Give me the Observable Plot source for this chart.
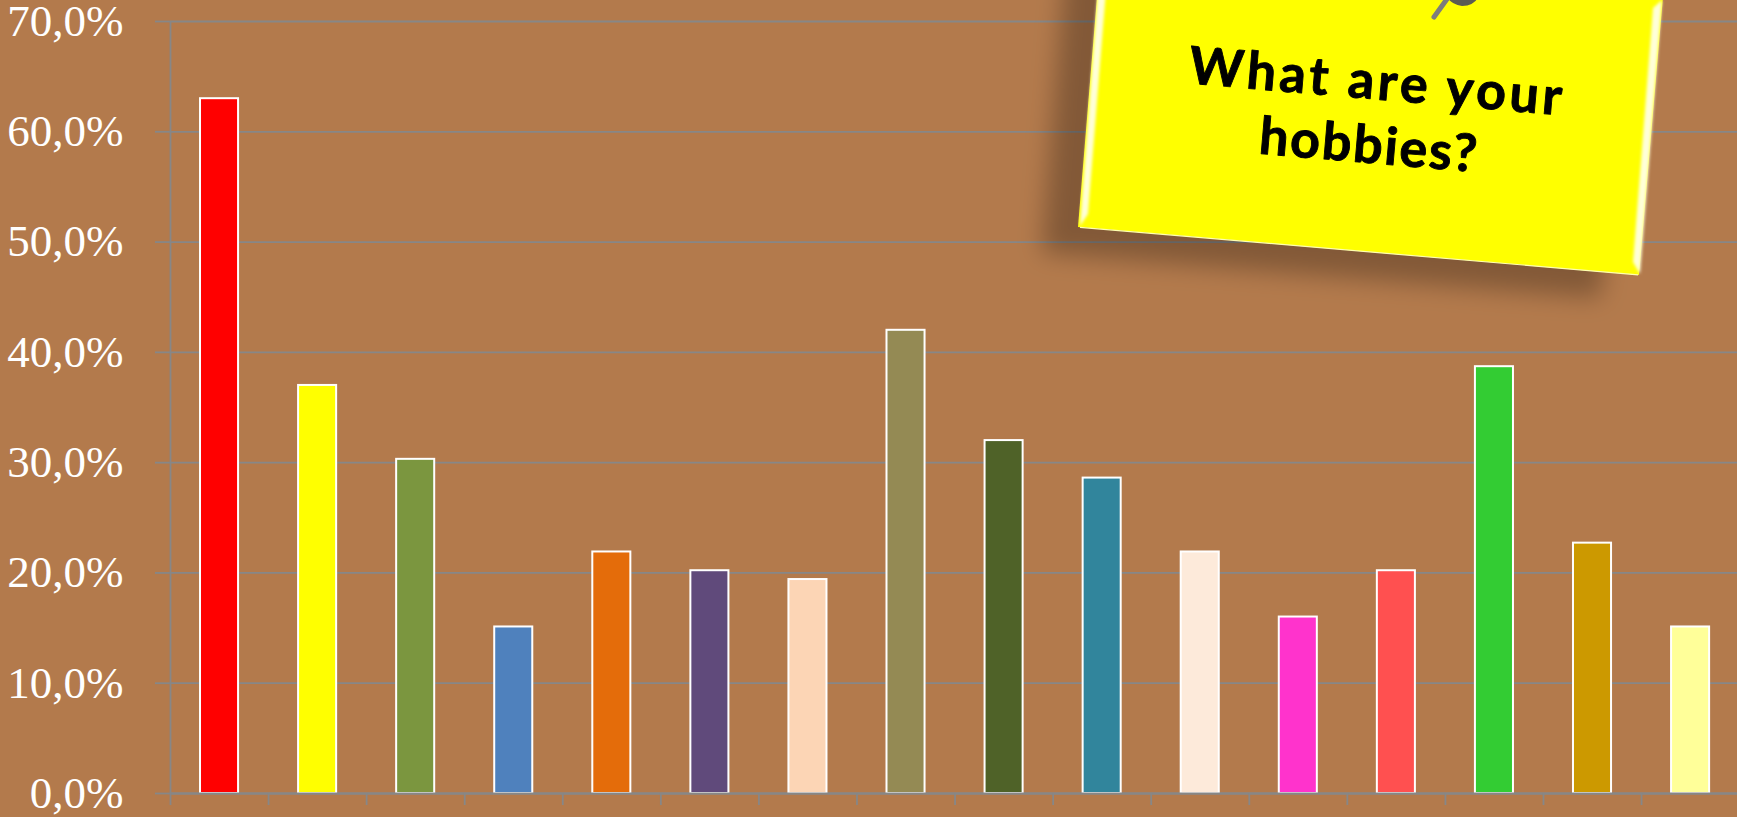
<!DOCTYPE html>
<html>
<head>
<meta charset="utf-8">
<script src="https://cdn.jsdelivr.net/npm/d3@7"></script>
<script src="https://cdn.jsdelivr.net/npm/@observablehq/plot@0.6"></script>
<style>
html,body{margin:0;padding:0;background:#B37A4C;overflow:hidden}
svg{display:block}
</style>
</head>
<body>
<div id="chart"></div>
<script>
const categories = ["1","2","3","4","5","6","7","8","9","10","11","12","13","14","15","16"];
const values = [63.0,37.0,30.3,15.1,21.9,20.2,19.4,42.0,32.0,28.6,21.9,16.0,20.2,38.7,22.7,15.1];
const colors = ["#FF0000","#FFFF00","#7B963F","#4F81BD","#E46C0A","#604A7B","#FCD5B5","#948A54","#4F6228","#31859C","#FDEADA","#FF33CC","#FF5050","#33CC33","#CC9900","#FFFF99"];
const yTicks = [0,10,20,30,40,50,60,70];
const noteLines = ["What are your","hobbies?"];

const rows = categories.map((c,i)=>({c, v: values[i], col: colors[i]}));
const grey = "#878787";
const step = 98.07;

function note(){
  const g=d3.create("svg:g");
  const defs=g.append("defs");
  const uf=(id,s)=>defs.append("filter").attr("id",id).attr("filterUnits","userSpaceOnUse")
    .attr("x",1000).attr("y",-100).attr("width",737).attr("height",500)
    .append("feGaussianBlur").attr("stdDeviation",s);
  uf("sh",12); uf("gl",1.5); uf("pn",0.7);
  g.append("polygon").attr("points","1066,-40 1042,253 1600,298 1640,-40")
    .attr("fill","#000").attr("fill-opacity",0.27).attr("filter","url(#sh)");
  g.append("polygon").attr("points","1101,-51 1078,227 1639,275 1663,-3").attr("fill","#FFFF00");
  // bevel highlights
  g.append("polygon").attr("points","1098,-10 1080,226 1088,214 1106,-10").attr("fill","#FFFFD8").attr("filter","url(#gl)");
  g.append("polygon").attr("points","1662,0 1640,274 1633,262 1653,8").attr("fill","#FFFFD8").attr("filter","url(#gl)");
  g.append("line").attr("x1",1080).attr("y1",227.3).attr("x2",1638).attr("y2",274.8).attr("stroke","#FFFFB0").attr("stroke-width",1.2);
  // pin
  g.append("line").attr("x1",1434).attr("y1",17).attr("x2",1447).attr("y2",-1)
    .attr("stroke","#7d7d7d").attr("stroke-width",5).attr("stroke-linecap","round").attr("filter","url(#pn)");
  g.append("path").attr("d","M1446,-4 L1479,-4 Q1474,6 1462,6 Q1452,5 1446,-4 Z").attr("fill","#5c5c52").attr("filter","url(#pn)");
  const t=g.append("g").attr("transform","rotate(4.9 1371 112)")
    .attr("font-family","'Comic Sans MS',Lato,'Open Sans','DejaVu Sans',sans-serif").attr("font-weight",700)
    .attr("font-size",52).attr("fill","#000").attr("stroke","#000").attr("stroke-width",0.9).attr("stroke-linejoin","round").attr("text-anchor","middle");
  t.append("text").attr("x",1373).attr("y",99).attr("textLength",374).attr("lengthAdjust","spacing").text(noteLines[0]);
  t.append("text").attr("x",1371).attr("y",163).attr("textLength",218).attr("lengthAdjust","spacing").text(noteLines[1]);
  return g.node();
}

const plot = Plot.plot({
  width:1737, height:817,
  marginLeft:170, marginRight:0, marginTop:21, marginBottom:24,
  style:{background:"#B37A4C"},
  x:{domain:categories, range:[170,170+16*step], paddingInner:0.612, paddingOuter:0.306, round:false, axis:null},
  y:{domain:[0,70], axis:null},
  marks:[
    Plot.ruleY(yTicks,{stroke:grey,strokeWidth:1.8}),
    Plot.axisY({ticks:yTicks, tickSize:15, tickPadding:32, stroke:grey, strokeWidth:1.8, strokeOpacity:1, fill:"#fff",
      tickFormat:d=>d.toFixed(1).replace(".",",")+"%", fontSize:45, fontFamily:"'Liberation Serif','Times New Roman',serif", label:null, color:"#fff"}),
    Plot.ruleX(categories.slice(0,1),{x:d=>d,dx:-step/2,stroke:grey,strokeWidth:1.8}),
    Plot.barY(rows,{x:"c",y:"v",fill:"col",stroke:"#fff",strokeWidth:2}),
    Plot.ruleY([0],{stroke:grey,strokeWidth:2}),
    Plot.axisX({tickSize:12, dx:-step/2, stroke:grey, strokeWidth:1.8, tickFormat:()=>"", label:null}),
    note
  ]
});
document.getElementById("chart").append(plot);
</script>
</body>
</html>
